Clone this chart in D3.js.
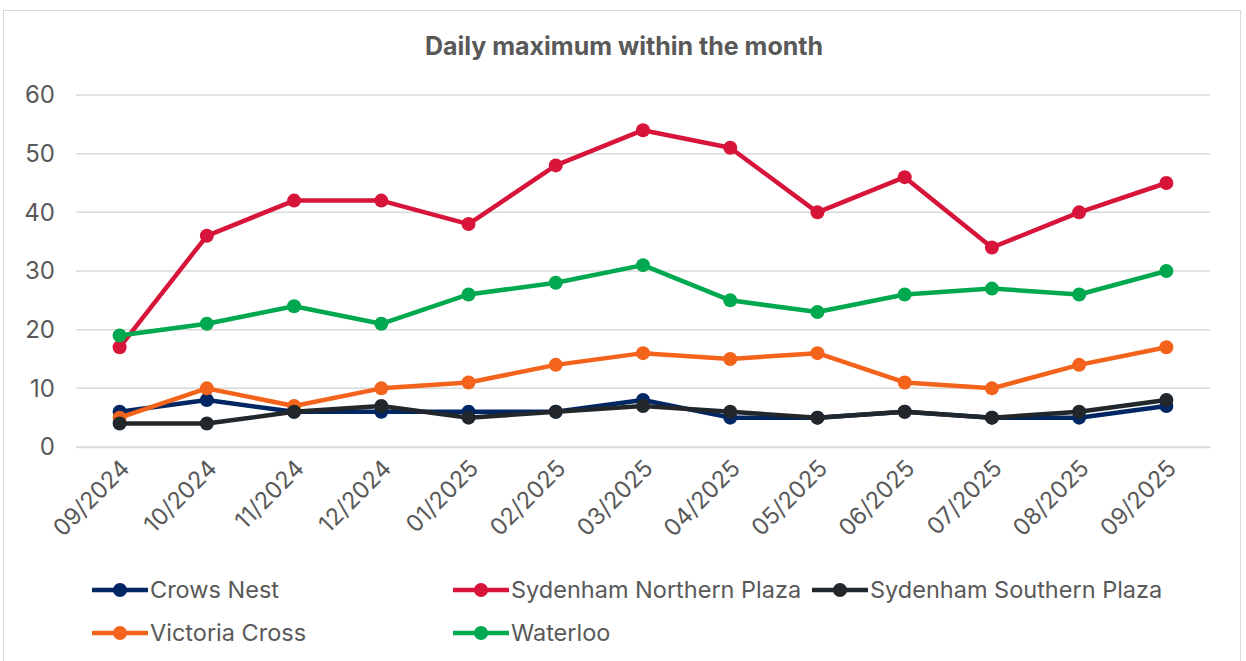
<!DOCTYPE html>
<html lang="en">
<head>
<meta charset="UTF-8">
<script src="https://cdnjs.cloudflare.com/ajax/libs/d3/7.8.5/d3.min.js"></script>
<title>Daily maximum within the month</title>
<style>
  body { margin: 0; background: #fff; }
  text { font-family: Inter, "Noto Sans", sans-serif; fill: #595959; }
</style>
</head>
<body>
<script>
  // data
  const months = ["09/2024", "10/2024", "11/2024", "12/2024", "01/2025", "02/2025", "03/2025",
                  "04/2025", "05/2025", "06/2025", "07/2025", "08/2025", "09/2025"];
  const crowsNest = [6, 8, 6, 6, 6, 6, 8, 5, 5, 6, 5, 5, 7];
  const sydNorth = [17, 36, 42, 42, 38, 48, 54, 51, 40, 46, 34, 40, 45];
  const sydSouth = [4, 4, 6, 7, 5, 6, 7, 6, 5, 6, 5, 6, 8];
  const victoriaCross = [5, 10, 7, 10, 11, 14, 16, 15, 16, 11, 10, 14, 17];
  const waterloo = [19, 21, 24, 21, 26, 28, 31, 25, 23, 26, 27, 26, 30];
  const yTicks = [0, 10, 20, 30, 40, 50, 60];

  const series = [
    {name: "Crows Nest", values: crowsNest, color: "#002664"},
    {name: "Sydenham Northern Plaza", values: sydNorth, color: "#D7153A"},
    {name: "Sydenham Southern Plaza", values: sydSouth, color: "#22272B"},
    {name: "Victoria Cross", values: victoriaCross, color: "#F3631B"},
    {name: "Waterloo", values: waterloo, color: "#00A84F"}
  ];
  // draw order: the dark line sits above crows nest
  const drawOrder = [0, 1, 3, 4, 2];

  const W = 1246, H = 661;
  const font = "Inter, 'Noto Sans', sans-serif";
  const svg = d3.select("body").append("svg").attr("width", W).attr("height", H);

  // chart frame
  svg.append("rect").attr("x", 3.5).attr("y", 10.5).attr("width", 1237).attr("height", 660)
    .attr("fill", "none").attr("stroke", "#d9d9d9");

  svg.append("text").attr("x", 624).attr("y", 55).attr("text-anchor", "middle")
    .style("font-size", "25px").style("font-weight", "bold")
    .text("Daily maximum within the month");

  let plot = {left: 76, right: 1210, top: 95, bottom: 447};

  let x = d3.scalePoint().domain(months).range([plot.left, plot.right]).padding(0.5);
  let y = d3.scaleLinear().domain([0, 60]).range([plot.bottom, plot.top]);

  // gridlines
  svg.append("g").selectAll("line").data(yTicks).enter().append("line")
    .attr("x1", plot.left).attr("x2", plot.right)
    .attr("y1", d => y(d)).attr("y2", d => y(d))
    .attr("stroke", "#d9d9d9").attr("stroke-width", 1.5);

  // y axis
  let yAxis = svg.append("g").attr("transform", "translate(" + plot.left + ",0)")
    .call(d3.axisLeft(y).tickValues(yTicks).tickSize(0).tickPadding(21));
  yAxis.select(".domain").remove();
  yAxis.selectAll("text").style("font-size", "24px").style("fill", "#595959")
    .style("font-family", font);

  // x axis
  let xAxis = svg.append("g").attr("transform", "translate(0," + plot.bottom + ")")
    .call(d3.axisBottom(x).tickSize(0).tickPadding(0));
  xAxis.select(".domain").attr("stroke", "#d9d9d9").attr("stroke-width", 1.5);
  xAxis.selectAll("text")
    .style("font-size", "23.5px").style("fill", "#595959")
    .style("font-family", font)
    .attr("text-anchor", "end")
    .attr("dy", "0.35em")
    .attr("transform", "translate(5,17) rotate(-45)");

  let line = d3.line().x((d, i) => x(months[i])).y(d => y(d));

  drawOrder.forEach(function(k) {
    let s = series[k];
    let g = svg.append("g");
    g.append("path").datum(s.values).attr("d", line)
      .attr("fill", "none").attr("stroke", s.color).attr("stroke-width", 4.5)
      .attr("stroke-linejoin", "round");
    g.selectAll("circle").data(s.values).enter().append("circle")
      .attr("cx", (d, i) => x(months[i])).attr("cy", d => y(d)).attr("r", 7)
      .attr("fill", s.color);
  });

  // legend
  let legendPos = [[92, 590], [453, 590], [812, 590], [92, 633], [453, 633]];
  series.forEach(function(s, i) {
    let p = legendPos[i];
    let g = svg.append("g").attr("transform", "translate(" + p[0] + "," + p[1] + ")");
    g.append("line").attr("x1", 0).attr("x2", 56).attr("y1", 0).attr("y2", 0)
      .attr("stroke", s.color).attr("stroke-width", 4.5);
    g.append("circle").attr("cx", 28).attr("cy", 0).attr("r", 7).attr("fill", s.color);
    g.append("text").attr("x", 58).attr("y", 0).attr("dy", "0.35em")
      .style("font-size", "23.5px").text(s.name);
  });
</script>
</body>
</html>
